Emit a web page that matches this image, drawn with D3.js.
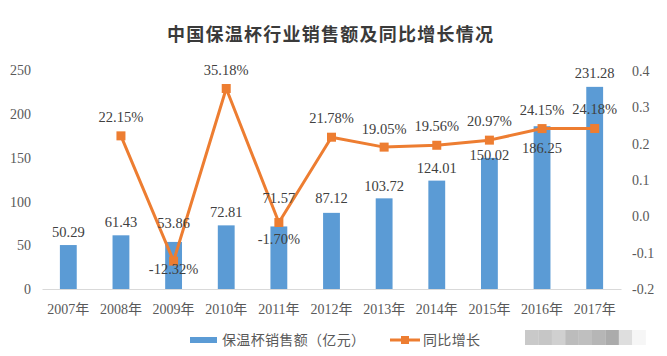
<!DOCTYPE html>
<html><head><meta charset="utf-8">
<script src="https://cdn.jsdelivr.net/npm/d3@7"></script>
<style>body{margin:0;background:#fff}svg{display:block}</style>
</head><body>
<svg id="c" width="667" height="356"></svg>
<script>
const years = ["2007年","2008年","2009年","2010年","2011年","2012年","2013年","2014年","2015年","2016年","2017年"];
const sales = [50.29,61.43,53.86,72.81,71.57,87.12,103.72,124.01,150.02,186.25,231.28];
const growth = [null,0.2215,-0.1232,0.3518,-0.0170,0.2178,0.1905,0.1956,0.2097,0.2415,0.2418];
const leftTicks = [0,50,100,150,200,250];
const rightTicks = [-0.2,-0.1,0.0,0.1,0.2,0.3,0.4];
const title = "中国保温杯行业销售额及同比增长情况";
const legendNames = ["保温杯销售额（亿元）","同比增长"];

// label nudges (layout only)
const barLabelDy = [-8,-8,-14,-8,-23,-10,-7,-8,2,27,-9];
const pctLabelDy = [0,-14,13,-14,21,-14,-13,-14,-14,-14,-14];

const svg = d3.select("#c");
const serif = "'Liberation Serif','Times New Roman','Noto Sans CJK SC',serif";
const cjk = "'Noto Sans CJK SC','Liberation Sans',sans-serif";
const blue = "#5B9BD5", orange = "#ED7D31";

const x = d3.scaleBand().domain(years).range([42,621]).padding(0);
const yL = d3.scaleLinear().domain([0,250]).range([289,70.5]);
const yR = d3.scaleLinear().domain([-0.2,0.4]).range([289,71]);
const bw = x.bandwidth()*0.32;
const cx = d => x(d)+x.bandwidth()/2;

// title
svg.append("text").attr("x",167).attr("y",41)
  .attr("font-family",cjk).attr("font-size",18).attr("font-weight","bold")
  .attr("textLength",326).attr("lengthAdjust","spacing")
  .attr("fill","#3a3a3a").text(title);

// left axis
const gL = svg.append("g").attr("transform","translate(31,0)")
  .call(d3.axisLeft(yL).tickValues(leftTicks).tickSize(0).tickPadding(0).tickFormat(d=>String(d)));
gL.select(".domain").remove();
gL.selectAll("text").attr("font-family",serif).attr("font-size",14).attr("fill","#595959");

// right axis
const gR = svg.append("g").attr("transform","translate(632,0)")
  .call(d3.axisRight(yR).tickValues(rightTicks).tickSize(0).tickPadding(0).tickFormat(d=>d.toFixed(1)));
gR.select(".domain").remove();
gR.selectAll("text").attr("font-family",serif).attr("font-size",14).attr("fill","#595959");

// bars
svg.append("g").selectAll("rect").data(sales).join("rect")
  .attr("x",(d,i)=>cx(years[i])-bw/2).attr("width",bw)
  .attr("y",d=>yL(d)).attr("height",d=>yL(0)-yL(d)).attr("fill",blue);

// bottom axis
const gB = svg.append("g").attr("transform","translate(0,289)")
  .call(d3.axisBottom(x).tickSize(0).tickPadding(15));
gB.select(".domain").attr("stroke","#d9d9d9").attr("stroke-width",1.2);
gB.selectAll("text").attr("font-family",serif).attr("font-size",14).attr("fill","#595959");

// line
const pts = growth.map((g,i)=>({g,i})).filter(p=>p.g!==null);
const line = d3.line().x(p=>cx(years[p.i])).y(p=>yR(p.g));
svg.append("path").datum(pts).attr("d",line).attr("fill","none")
  .attr("stroke",orange).attr("stroke-width",3).attr("stroke-linejoin","round");
svg.append("g").selectAll("rect").data(pts).join("rect")
  .attr("x",p=>cx(years[p.i])-4.5).attr("y",p=>yR(p.g)-4.5)
  .attr("width",9).attr("height",9).attr("fill",orange);

// bar labels
svg.append("g").selectAll("text").data(sales).join("text")
  .attr("x",(d,i)=>cx(years[i])).attr("y",(d,i)=>yL(d)+barLabelDy[i])
  .attr("text-anchor","middle").attr("font-family",serif).attr("font-size",14.5)
  .attr("fill","#404040").text(d=>d.toFixed(2));

// pct labels
svg.append("g").selectAll("text").data(pts).join("text")
  .attr("x",p=>cx(years[p.i])).attr("y",p=>yR(p.g)+pctLabelDy[p.i])
  .attr("text-anchor","middle").attr("font-family",serif).attr("font-size",14.5)
  .attr("fill","#404040").text(p=>(p.g*100).toFixed(2)+"%");

// legend
const lg = svg.append("g");
lg.append("rect").attr("x",190).attr("y",337).attr("width",27).attr("height",6).attr("fill",blue);
lg.append("text").attr("x",222).attr("y",345).attr("font-family",cjk).attr("font-size",14)
  .attr("textLength",143).attr("lengthAdjust","spacing").attr("fill","#595959").text(legendNames[0]);
lg.append("line").attr("x1",390).attr("x2",420).attr("y1",340).attr("y2",340)
  .attr("stroke",orange).attr("stroke-width",3);
lg.append("rect").attr("x",401).attr("y",336).attr("width",8).attr("height",8).attr("fill",orange);
lg.append("text").attr("x",423).attr("y",345).attr("font-family",cjk).attr("font-size",14)
  .attr("textLength",57).attr("lengthAdjust","spacing").attr("fill","#595959").text(legendNames[1]);

// blurred watermark mosaic (decorative)
const shades = ["#c9c9c9","#c6c6c6","#d0d0d0","#bcbcbc","#bfbfbf","#b6b6b6","#ababab","#dedede","#f6f6f6"];
svg.append("g").selectAll("rect").data(shades).join("rect")
  .attr("x",(d,i)=>525+i*13.4).attr("y",330).attr("width",13.6).attr("height",15).attr("fill",d=>d);
</script>
</body></html>
